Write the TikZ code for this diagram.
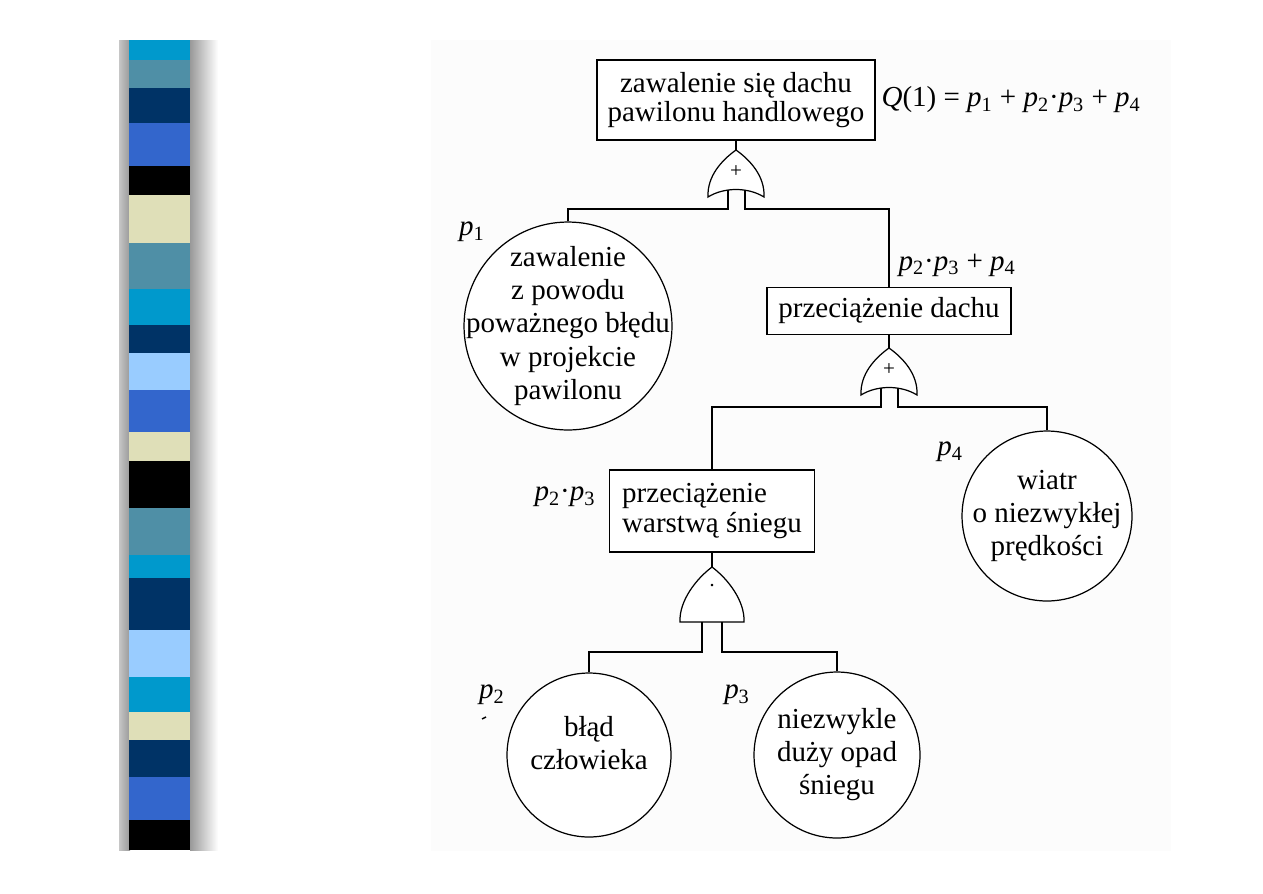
\documentclass[tikz,border=0pt]{standalone}
\usepackage{fontspec}
\setmainfont{Liberation Serif}
\usetikzlibrary{shapes.geometric}

\definecolor{stcyan}{HTML}{0099CC}
\definecolor{stteal}{HTML}{4F8FA6}
\definecolor{stnavy}{HTML}{003366}
\definecolor{stblue}{HTML}{3366CC}
\definecolor{stbeige}{HTML}{DFDFB8}
\definecolor{stlight}{HTML}{99CCFF}

\newcommand{\pv}[1]{\textit{p}\textsubscript{#1}}

\tikzset{
  evtext/.style={align=center, inner sep=0pt,
    font=\fontsize{16.5}{18.8}\selectfont},
  faultbox/.style={draw, line width=0.7pt, fill=white,
    font=\fontsize{16.5}{17}\selectfont},
  basic/.style={draw, circle, inner sep=0pt, fill=white, line width=0.7pt},
  plabel/.style={font=\fontsize{16.5}{18}\selectfont, inner sep=0pt},
  gatesign/.style={font=\fontsize{12}{12}\selectfont, inner sep=0pt},
  orgate/.pic={
    \draw[line width=0.7pt, fill=white] (0,0) .. controls (-14,10) and (-29,26) .. (-28,47)
      .. controls (-12,37) and (12,37) .. (28,47)
      .. controls (29,26) and (14,10) .. (0,0) -- cycle;
    \node[gatesign] (-sign) at (0,22) {+};
    \coordinate (-top) at (0,0);
    \coordinate (-l) at (-8,40);
    \coordinate (-r) at (9,40);
    \coordinate (-lb) at (-8,59);
    \coordinate (-rb) at (9,59);
  },
  andgate/.pic={
    \draw[line width=0.7pt, fill=white] (0,0) .. controls (-16,12) and (-33,34) .. (-32,55)
      -- (32,55) .. controls (33,34) and (16,12) .. (0,0) -- cycle;
    \node[gatesign] (-sign) at (0,21) {·};
    \coordinate (-top) at (0,0);
    \coordinate (-l) at (-10,55);
    \coordinate (-r) at (10,55);
    \coordinate (-lb) at (-10,85);
    \coordinate (-rb) at (10,85);
  },
}

\begin{document}
\begin{tikzpicture}[x=0.02cm, y=-0.02cm, line width=0.7pt]
  \useasboundingbox (0,0) rectangle (1263,893);

  % slide decoration
  \fill[left color=gray!45, right color=gray!80] (119,40) rectangle (130,850);
  \fill[left color=gray!80, right color=white] (190,40) rectangle (218,850);
  \foreach \ya/\yb/\col in {40/60/stcyan, 60/88/stteal, 88/123/stnavy, 123/166/stblue,
      166/195/black, 195/243/stbeige, 243/289/stteal, 289/325/stcyan, 325/353/stnavy,
      353/390/stlight, 390/432/stblue, 432/461/stbeige, 461/508/black, 508/555/stteal,
      555/578/stcyan, 578/630/stnavy, 630/677/stlight, 677/712/stcyan, 712/740/stbeige,
      740/777/stnavy, 777/820/stblue, 820/850/black}
    \fill[\col] (129,\ya) rectangle (190,\yb);

  % scanned page
  \fill[black!1] (431,40) rectangle (1171,851);

  % events
  \node[faultbox, align=center, minimum width=5.56cm, minimum height=1.6cm] (top) at (736,100)
    {zawalenie się dachu\\pawilonu handlowego};
  \node[faultbox, minimum width=4.88cm, minimum height=0.94cm] (roof) at (889,311)
    {przeciążenie dachu};
  \node[faultbox, align=left, minimum width=4.1cm, minimum height=1.64cm] (snow) at (712,511)
    {przeciążenie\\warstwą śniegu};

  \node[basic, minimum size=4.16cm,
    label={[evtext]center:zawalenie\\z powodu\\poważnego błędu\\w projekcie\\pawilonu}] (e1) at (568,326) {};
  \node[basic, minimum size=3.4cm,
    label={[evtext]center:wiatr\\o niezwykłej\\prędkości}] (e4) at (1047,516) {};
  \node[basic, minimum size=3.28cm,
    label={[evtext, yshift=7pt]center:błąd\\człowieka}] (e2) at (589,755) {};
  \node[basic, minimum size=3.32cm,
    label={[evtext]center:niezwykle\\duży opad\\śniegu}] (e3) at (837,755) {};

  % gates
  \pic (g1) at (736,150) {orgate};
  \pic (g2) at (889,348) {orgate};
  \pic (g3) at (712,567) {andgate};

  % connectors
  \draw (top.south) -- (g1-top);
  \draw (e1.north) |- (g1-lb) -- (g1-l);
  \draw (roof.north) |- (g1-rb) -- (g1-r);
  \draw (roof.south) -- (g2-top);
  \draw (snow.north) |- (g2-lb) -- (g2-l);
  \draw (e4.north) |- (g2-rb) -- (g2-r);
  \draw (snow.south) -- (g3-top);
  \draw (e2.north) |- (g3-lb) -- (g3-l);
  \draw (e3.north) |- (g3-rb) -- (g3-r);

  % probabilities
  \node[plabel, anchor=west] (qtop) at (881,100)
    {\textit{Q}(1) = \pv{1} + \pv{2}·\pv{3} + \pv{4}};
  \node[plabel] (l1) at (472,232) {\pv{1}};
  \node[plabel, anchor=west] (lroof) at (898,265) {\pv{2}·\pv{3} + \pv{4}};
  \node[plabel] (lsnow) at (565,497) {\pv{2}·\pv{3}};
  \node[plabel] (l4) at (950,452) {\pv{4}};
  \node[plabel] (l2) at (492,695) {\pv{2}};
  \node[plabel] (l3) at (737,695) {\pv{3}};
  \draw[line width=0.8pt] (482,719) -- (486,717);
\end{tikzpicture}
\end{document}
